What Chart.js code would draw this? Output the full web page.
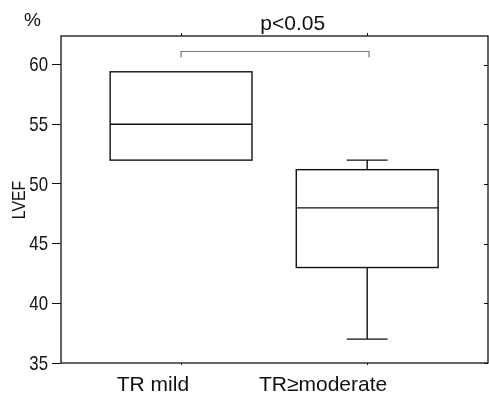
<!DOCTYPE html>
<html><head><meta charset="utf-8">
<script src="https://cdn.jsdelivr.net/npm/chart.js@4"></script>
<style>html,body{margin:0;padding:0;background:#fff}#wrap{width:489px;height:394px;position:relative}</style>
</head><body><div id="wrap"><canvas id="c"></canvas></div>
<script>
const categories = ["TR mild", "TR≥moderate"];
const whiskerMin = [52, 37];
const q1 = [52, 43];
const median = [55, 48];
const q3 = [59.4, 51.2];
const whiskerMax = [59.4, 52];
const yTicks = [35, 40, 45, 50, 55, 60];
const pLabel = "p<0.05";
const bracketTop = 61.1, bracketBottom = 60.6;
const labelAt = [0.849, 1.763];

const FONT = "'Liberation Sans', Arial, sans-serif";

const boxPlugin = {
  id: 'boxes',
  afterDatasetsDraw(chart) {
    const ctx = chart.ctx, xs = chart.scales.x, ys = chart.scales.y, a = chart.chartArea;
    ctx.save();
    ctx.strokeStyle = '#111';
    ctx.lineWidth = 1.3;
    ctx.strokeRect(a.left, a.top, a.right - a.left, a.bottom - a.top);
    ctx.lineWidth = 1;
    yTicks.forEach(v => {
      const y = Math.round(ys.getPixelForValue(v)) + 0.5;
      ctx.beginPath(); ctx.moveTo(a.right, y); ctx.lineTo(a.right - 4, y); ctx.stroke();
    });
    categories.forEach((c, i) => {
      const x = Math.round(xs.getPixelForValue(i + 1)) + 0.5;
      ctx.beginPath(); ctx.moveTo(x, a.top); ctx.lineTo(x, a.top - 3); ctx.stroke();
      ctx.beginPath(); ctx.moveTo(x, a.bottom); ctx.lineTo(x, a.bottom + 2); ctx.stroke();
    });
    ctx.lineWidth = 1.4;
    const halfBox = 0.381, halfCap = 0.11;
    categories.forEach((c, i) => {
      const cx = xs.getPixelForValue(i + 1);
      const xl = xs.getPixelForValue(i + 1 - halfBox), xr = xs.getPixelForValue(i + 1 + halfBox);
      const cl = xs.getPixelForValue(i + 1 - halfCap), cr = xs.getPixelForValue(i + 1 + halfCap);
      const yq1 = ys.getPixelForValue(q1[i]), yq3 = ys.getPixelForValue(q3[i]);
      const ym = ys.getPixelForValue(median[i]);
      const ywl = ys.getPixelForValue(whiskerMin[i]), ywh = ys.getPixelForValue(whiskerMax[i]);
      ctx.strokeRect(xl, yq3, xr - xl, yq1 - yq3);
      ctx.beginPath(); ctx.moveTo(xl, ym); ctx.lineTo(xr, ym); ctx.stroke();
      if (whiskerMax[i] > q3[i]) {
        ctx.beginPath(); ctx.moveTo(cx, yq3); ctx.lineTo(cx, ywh);
        ctx.moveTo(cl, ywh); ctx.lineTo(cr, ywh); ctx.stroke();
      }
      if (whiskerMin[i] < q1[i]) {
        ctx.beginPath(); ctx.moveTo(cx, yq1); ctx.lineTo(cx, ywl);
        ctx.moveTo(cl, ywl); ctx.lineTo(cr, ywl); ctx.stroke();
      }
    });
    ctx.strokeStyle = '#777';
    ctx.lineWidth = 1.2;
    const bx1 = xs.getPixelForValue(1), bx2 = xs.getPixelForValue(2.01);
    const byt = ys.getPixelForValue(bracketTop), byb = ys.getPixelForValue(bracketBottom);
    ctx.beginPath();
    ctx.moveTo(bx1, byb); ctx.lineTo(bx1, byt); ctx.lineTo(bx2, byt); ctx.lineTo(bx2, byb);
    ctx.stroke();
    ctx.fillStyle = '#111';
    ctx.font = '21px ' + FONT;
    ctx.textAlign = 'center'; ctx.textBaseline = 'alphabetic';
    ctx.fillText(pLabel, xs.getPixelForValue(1.6), 30);
    ctx.font = '19px ' + FONT;
    ctx.textAlign = 'left';
    ctx.fillText('%', 24, 26);
    // y tick labels, condensed
    ctx.font = '21px ' + FONT;
    ctx.textAlign = 'right'; ctx.textBaseline = 'middle';
    yTicks.forEach(v => {
      const y = ys.getPixelForValue(v);
      ctx.save();
      ctx.translate(48, y + 1);
      ctx.scale(0.8, 1);
      ctx.fillText(String(v), 0, 0);
      ctx.restore();
    });
    ctx.save();
    ctx.translate(25, 200);
    ctx.rotate(-Math.PI / 2);
    ctx.scale(0.88, 1);
    ctx.textAlign = 'center'; ctx.textBaseline = 'alphabetic';
    ctx.font = '18px ' + FONT;
    ctx.fillText('LVEF', 0, 0);
    ctx.restore();
    ctx.restore();
  }
};

new Chart(document.getElementById('c'), {
  type: 'scatter',
  data: { datasets: [{ data: median.map((m, i) => ({ x: i + 1, y: m })), pointRadius: 0, showLine: false }] },
  options: {
    responsive: true, maintainAspectRatio: false, animation: false,
    layout: { padding: { top: 36, right: 1, left: 0, bottom: 0 } },
    plugins: { legend: { display: false }, tooltip: { enabled: false } },
    scales: {
      x: {
        type: 'linear', min: 0.355, max: 2.649,
        afterBuildTicks: s => { s.ticks = labelAt.map(v => ({ value: v })); },
        afterFit: s => { s.height = 31; },
        grid: { display: false },
        border: { display: false },
        ticks: { callback: (v, i) => categories[i], color: '#111', font: { family: FONT, size: 21 }, padding: 2, maxRotation: 0, autoSkip: false }
      },
      y: {
        min: 35, max: 62.4,
        afterBuildTicks: s => { s.ticks = yTicks.map(v => ({ value: v })); },
        afterFit: s => { s.width = 61; },
        grid: { drawOnChartArea: false, drawTicks: true, tickLength: 9, color: '#111' },
        border: { display: false },
        ticks: { callback: () => '', color: '#111', font: { family: FONT, size: 21 }, padding: 5 }
      }
    }
  },
  plugins: [boxPlugin]
});
</script></body></html>
